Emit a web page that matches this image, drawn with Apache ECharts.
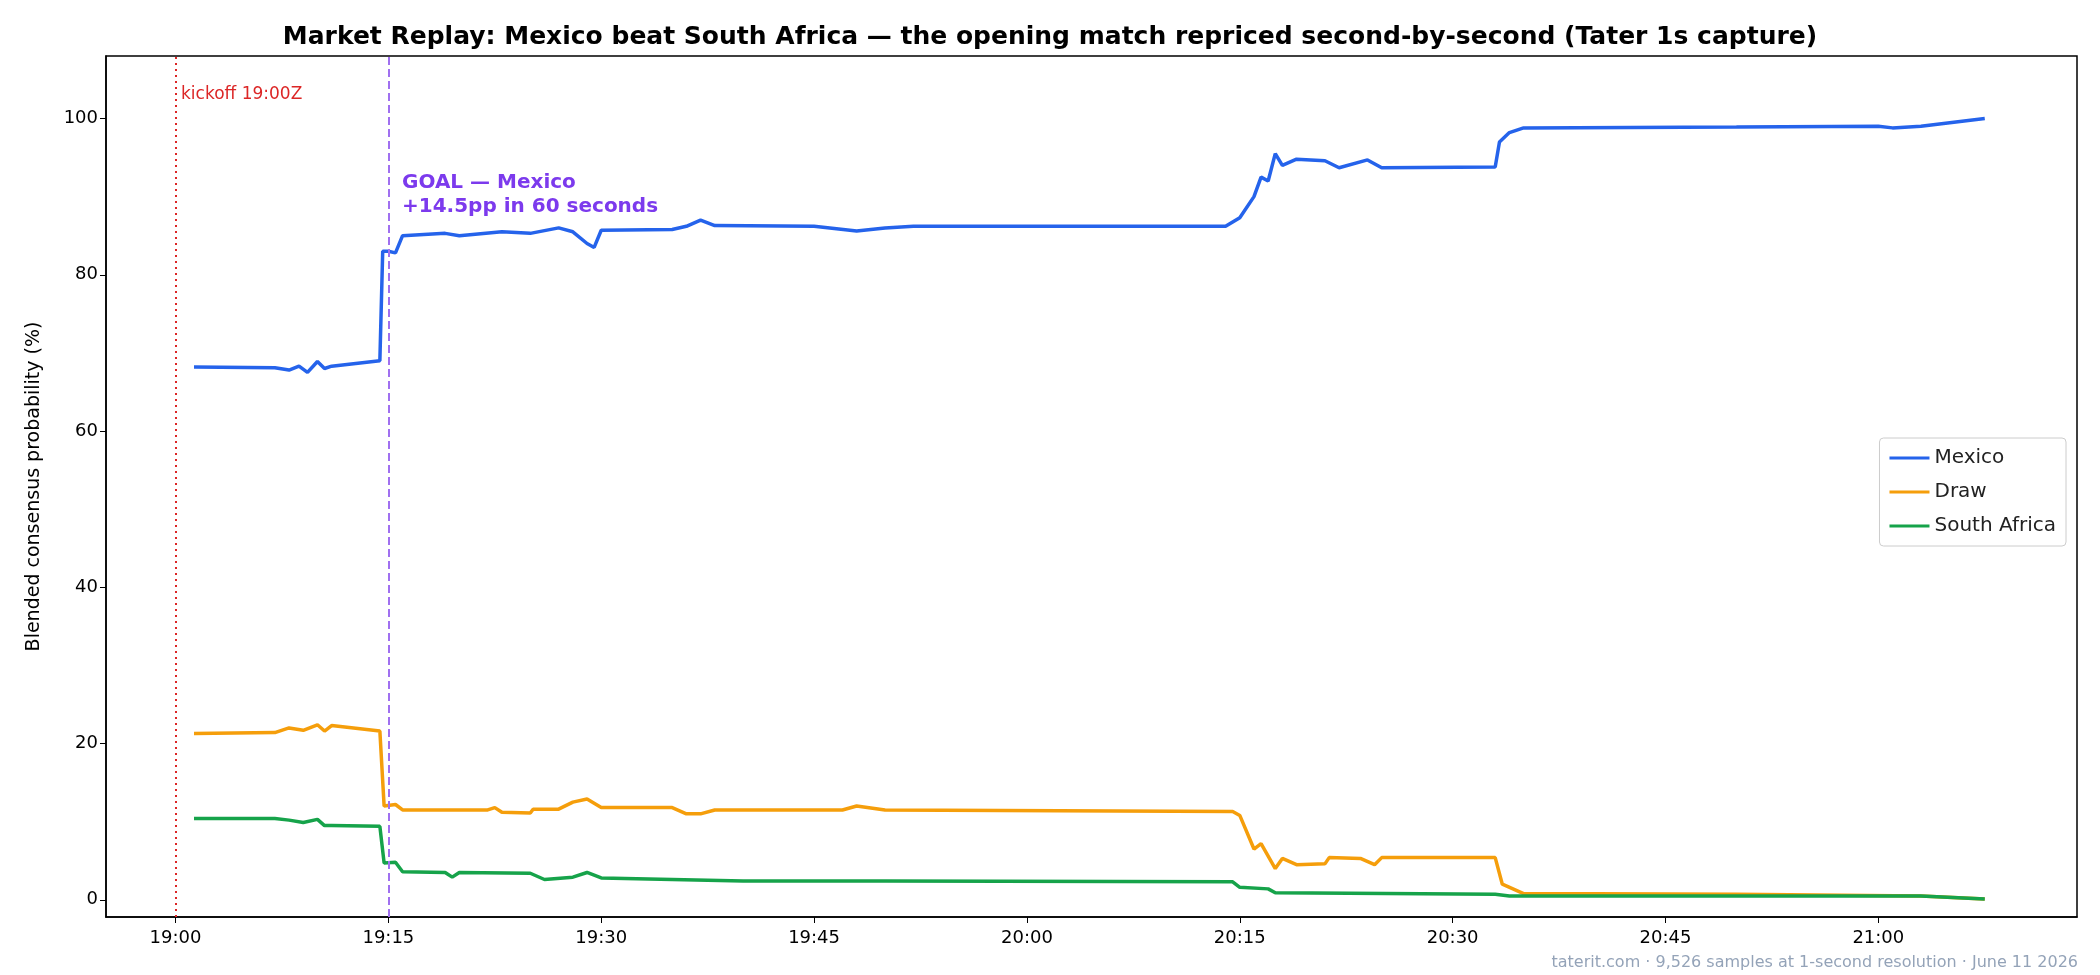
<!DOCTYPE html>
<html>
<head>
<meta charset="utf-8">
<script src="https://cdn.jsdelivr.net/npm/echarts@6/dist/echarts.min.js"></script>
<style>
  html, body { margin: 0; padding: 0; background: #fff; }
  #chart { width: 2100px; height: 975px; }
</style>
</head>
<body>
<div id="chart"></div>
<script>
// minutes after 19:00Z
const mexicoT = [1.3, 7, 8, 8.7, 9.3, 10, 10.5, 11, 14.4, 14.6, 15, 15.5, 16, 19, 20, 23, 25, 27, 28, 29, 29.5, 30, 35, 36, 37, 38, 45, 48, 50, 52, 60, 74, 75, 76, 76.5, 77, 77.5, 78, 79, 81, 82, 84, 85, 93, 93.3, 94, 95, 110, 120, 121, 123, 127.5];
const mexicoV = [68.2, 68.1, 67.8, 68.3, 67.5, 68.9, 68.0, 68.3, 69.0, 83.0, 83.0, 82.8, 85.0, 85.3, 85.0, 85.5, 85.3, 86.0, 85.5, 84.0, 83.5, 85.7, 85.8, 86.2, 87.0, 86.3, 86.2, 85.6, 86.0, 86.2, 86.2, 86.2, 87.3, 90.0, 92.5, 92.0, 95.5, 94.0, 94.8, 94.6, 93.7, 94.7, 93.7, 93.8, 97.0, 98.2, 98.8, 98.9, 99.0, 98.8, 99.0, 100.0];

const drawT = [1.3, 7, 8, 9, 10, 10.5, 11, 14.4, 14.7, 15.5, 16, 22, 22.5, 23, 25, 25.2, 27, 28, 29, 30, 35, 36, 37, 38, 47, 48, 50, 74.5, 75, 76, 76.5, 77.5, 78, 79, 81, 81.3, 83.5, 84.5, 85, 93, 93.5, 95, 110, 123, 127.5];
const drawV = [21.3, 21.4, 22.0, 21.7, 22.4, 21.6, 22.3, 21.6, 12.0, 12.2, 11.5, 11.5, 11.8, 11.2, 11.1, 11.6, 11.6, 12.5, 12.9, 11.8, 11.8, 11.0, 11.0, 11.5, 11.5, 12.0, 11.5, 11.3, 10.8, 6.5, 7.2, 4.0, 5.3, 4.5, 4.6, 5.4, 5.3, 4.5, 5.4, 5.4, 2.0, 0.8, 0.7, 0.5, 0.1];

const southAfricaT = [1.3, 7, 8, 9, 10, 10.5, 11, 14.4, 14.7, 15.5, 16, 19, 19.5, 20, 25, 26, 28, 29, 30, 40, 50, 74.5, 75, 77, 77.5, 93, 94, 123, 127.5];
const southAfricaV = [10.4, 10.4, 10.2, 9.9, 10.3, 9.5, 9.5, 9.4, 4.7, 4.8, 3.6, 3.5, 2.9, 3.5, 3.4, 2.6, 2.9, 3.5, 2.8, 2.4, 2.4, 2.3, 1.6, 1.4, 0.9, 0.7, 0.5, 0.5, 0.1];

const tickMinutes = [0, 15, 30, 45, 60, 75, 90, 105, 120];
const tickLabels = ['19:00', '19:15', '19:30', '19:45', '20:00', '20:15', '20:30', '20:45', '21:00'];
const yTicks = [0, 20, 40, 60, 80, 100];

const zip = (t, v) => t.map((x, i) => [x, v[i]]);
const font = 'DejaVu Sans';

const chart = echarts.init(document.getElementById('chart'));
const lineSeries = (name, color, t, v) => ({
    name: name,
    type: 'line',
    data: zip(t, v),
    showSymbol: false,
    lineStyle: { color: color, width: 3.5 },
    itemStyle: { color: color },
    z: 3
});

const mex = lineSeries('Mexico', '#2563eb', mexicoT, mexicoV);
mex.markLine = {
    silent: true,
    symbol: 'none',
    label: { show: false },
    data: [
        { xAxis: 0, lineStyle: { color: '#dc2626', type: [2, 4], width: 2 } },
        { xAxis: 15, lineStyle: { color: '#a070f0', type: [8, 4], width: 2 } }
    ]
};

chart.setOption({
    animation: false,
    textStyle: { fontFamily: font },
    title: {
        text: 'Market Replay: Mexico beat South Africa — the opening match repriced second-by-second (Tater 1s capture)',
        left: 'center',
        top: 20,
        textStyle: { fontSize: 25, fontWeight: 'bold', color: '#000', fontFamily: font }
    },
    grid: { left: 106, right: 23, top: 56, bottom: 58, show: true, borderColor: '#000', borderWidth: 1.5 },
    legend: {
        orient: 'vertical',
        right: 34,
        top: 438,
        itemWidth: 40,
        itemHeight: 3,
        itemGap: 14,
        padding: [10, 10, 10, 10],
        borderColor: '#ccc',
        borderWidth: 1,
        borderRadius: 4,
        icon: 'rect',
        textStyle: { fontSize: 20, color: '#222', fontFamily: font },
        data: ['Mexico', 'Draw', 'South Africa']
    },
    xAxis: {
        type: 'value',
        min: -4.9,
        max: 134,
        splitLine: { show: false },
        axisLine: { onZero: false, lineStyle: { color: '#000', width: 1.5 } },
        axisTick: { show: true, length: 6, lineStyle: { color: '#000' }, customValues: tickMinutes },
        axisLabel: {
            show: true, fontSize: 18, color: '#000', margin: 12,
            customValues: tickMinutes,
            formatter: v => tickLabels[tickMinutes.indexOf(v)]
        }
    },
    yAxis: {
        type: 'value',
        min: -2.2,
        max: 108,
        name: 'Blended consensus probability (%)',
        nameLocation: 'middle',
        nameGap: 62,
        nameTextStyle: { fontSize: 19, color: '#000', fontFamily: font },
        splitLine: { show: false },
        axisLine: { show: true, onZero: false, lineStyle: { color: '#000', width: 1.5 } },
        axisTick: { show: true, length: 6, lineStyle: { color: '#000' }, customValues: yTicks },
        axisLabel: { fontSize: 18, color: '#000', customValues: yTicks }
    },
    series: [
        mex,
        lineSeries('Draw', '#f59e0b', drawT, drawV),
        lineSeries('South Africa', '#16a34a', southAfricaT, southAfricaV)
    ],
    graphic: [
        {
            type: 'text', left: 181, top: 86,
            style: { text: 'kickoff 19:00Z', fill: '#dc2626', font: '17px "DejaVu Sans"' }
        },
        {
            type: 'text', left: 402, top: 171,
            style: { text: 'GOAL — Mexico\n+14.5pp in 60 seconds', fill: '#7c3aed', font: 'bold 20px "DejaVu Sans"', lineHeight: 24 }
        },
        {
            type: 'text', right: 22, bottom: 4,
            style: { text: 'taterit.com · 9,526 samples at 1-second resolution · June 11 2026', fill: '#94a3b8', font: '16px "DejaVu Sans"' }
        }
    ]
});
</script>
</body>
</html>
